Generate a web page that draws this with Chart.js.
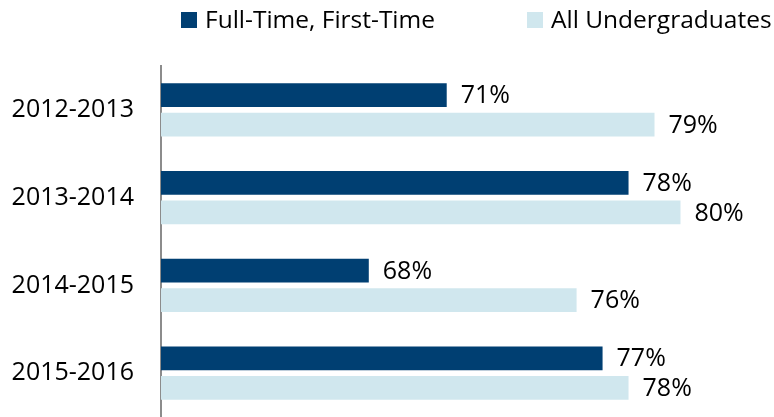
<!DOCTYPE html>
<html>
<head>
<meta charset="utf-8">
<script src="https://cdn.jsdelivr.net/npm/chart.js@4.4.1/dist/chart.umd.min.js"></script>
<style>
    html, body { margin: 0; padding: 0; background: #fff; overflow: hidden; }
    #retentionChart { display: block; width: 774px; height: 417px; }
</style>
</head>
<body>
<canvas id="retentionChart" width="774" height="417"></canvas>
<script>
// Retention rates by academic year
const years = ['2012-2013', '2013-2014', '2014-2015', '2015-2016'];
const seriesNames = ['Full-Time, First-Time', 'All Undergraduates'];
const fullTimeFirstTime = [71, 78, 68, 77];
const allUndergraduates = [79, 80, 76, 78];
const axisMin = 60;
const axisMax = 83.6;

const FONT = '"Open Sans", "Noto Sans", sans-serif';
const COLORS = ['#003F72', '#D0E7EE'];

// value labels at the end of each bar
const valueLabels = {
    id: 'valueLabels',
    afterDatasetsDraw(chart) {
        const ctx = chart.ctx;
        ctx.save();
        ctx.font = '25px ' + FONT;
        ctx.fillStyle = '#000';
        ctx.textBaseline = 'middle';
        ctx.textAlign = 'left';
        chart.data.datasets.forEach((ds, i) => {
            chart.getDatasetMeta(i).data.forEach((bar, j) => {
                ctx.fillText(ds.data[j] + '%', bar.x + 14, bar.y + 1);
            });
        });
        ctx.restore();
    }
};

// legend drawn by hand so the spacing matches the original
const topLegend = {
    id: 'topLegend',
    afterDraw(chart) {
        const ctx = chart.ctx;
        const starts = [181, 527];
        ctx.save();
        ctx.font = '24.5px ' + FONT;
        ctx.textBaseline = 'middle';
        chart.data.datasets.forEach((ds, i) => {
            const x = starts[i];
            ctx.fillStyle = ds.backgroundColor;
            ctx.fillRect(x, 12, 16, 16);
            ctx.fillStyle = '#000';
            ctx.fillText(ds.label, x + 24, 21);
        });
        ctx.restore();
    }
};

new Chart(document.getElementById('retentionChart'), {
    type: 'bar',
    data: {
        labels: years,
        datasets: [
            { label: seriesNames[0], data: fullTimeFirstTime, backgroundColor: COLORS[0] },
            { label: seriesNames[1], data: allUndergraduates, backgroundColor: COLORS[1] },
        ]
    },
    options: {
        indexAxis: 'y',
        responsive: false,
        maintainAspectRatio: false,
        animation: false,
        devicePixelRatio: 1,
        categoryPercentage: 0.674,
        barPercentage: 0.8,
        // the last category runs past the bottom edge, as in the original
        layout: { padding: { top: 66, bottom: -10, left: 0, right: 0 } },
        plugins: {
            legend: { display: false },
            tooltip: { enabled: false }
        },
        scales: {
            x: { type: 'linear', min: axisMin, max: axisMax, display: false },
            y: {
                grid: { display: false, drawTicks: false },
                border: { display: true, color: '#8C8C8C', width: 2 },
                ticks: { color: '#000', font: { family: FONT, size: 25 }, padding: 27 },
                afterFit(scale) {
                    // fixed axis width; the tick padding should not eat vertical room
                    scale.width = 161;
                    scale.paddingTop = 0;
                    scale.paddingBottom = 0;
                }
            }
        }
    },
    plugins: [valueLabels, topLegend]
});
</script>
</body>
</html>
